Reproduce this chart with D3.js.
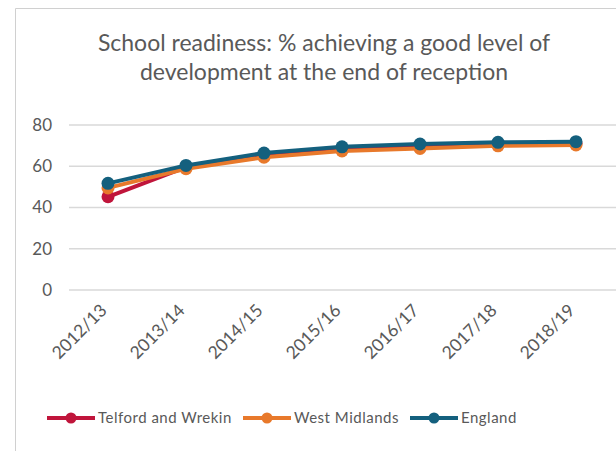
<!DOCTYPE html>
<html><head><meta charset="utf-8">
<script src="https://cdn.jsdelivr.net/npm/d3@7"></script>
<style>body{margin:0;background:#fff}svg{display:block}</style>
</head><body><svg id="c" width="616" height="451"></svg>
<script>
const categories = ["2012/13","2013/14","2014/15","2015/16","2016/17","2017/18","2018/19"];
const telford = [45.2, 59.6, 65.6, 68.6, 69.8, 70.9, 71.0];
const westMidlands = [49.5, 58.8, 64.4, 67.4, 68.6, 69.9, 70.3];
const england = [51.7, 60.4, 66.4, 69.4, 70.8, 71.6, 71.9];
const seriesNames = ["Telford and Wrekin","West Midlands","England"];
const seriesColors = ["#C0153B","#E8792B","#14607E"];
const yTicks = [0,20,40,60,80];
const titleLines = ["School readiness: % achieving a good level of","development at the end of reception"];

const series = [telford, westMidlands, england].map((v,i)=>({name:seriesNames[i], color:seriesColors[i], values:v}));
const svg = d3.select("#c");
const font = "Lato, 'Open Sans', sans-serif";
const txt = "#595959";

// chart border
svg.append("path").attr("d","M15.5,451 V8.5 H616").attr("fill","none").attr("stroke","#d0d0d0").attr("stroke-width",1);

// title
svg.append("text").attr("x",324).attr("y",51).attr("text-anchor","middle")
  .attr("font-family",font).attr("font-size",23).attr("fill",txt)
  .selectAll("tspan").data(titleLines).join("tspan")
  .attr("x",324).attr("dy",(d,i)=>i?29:0).text(d=>d);

const x = d3.scalePoint().domain(categories).range([108,576]);
const y = d3.scaleLinear().domain([0,80]).range([290,125]);

// gridlines
svg.append("g").selectAll("line").data(yTicks).join("line")
  .attr("x1",69).attr("x2",616).attr("y1",d=>y(d)).attr("y2",d=>y(d))
  .attr("stroke","#d9d9d9").attr("stroke-width",1.5);

// y axis
const ya = svg.append("g").attr("transform","translate(69,0)")
  .call(d3.axisLeft(y).tickValues(yTicks).tickSize(0).tickPadding(17));
ya.select(".domain").remove();
ya.selectAll("text").attr("font-family",font).attr("font-size",17).attr("fill",txt);

// x axis
const xa = svg.append("g").attr("transform","translate(0,292)")
  .call(d3.axisBottom(x).tickSize(0));
xa.select(".domain").remove();
xa.selectAll("text").attr("font-family",font).attr("font-size",17.5).attr("fill",txt)
  .attr("text-anchor","end").attr("dy","0.35em")
  .attr("transform","translate(-7,13) rotate(-45)");

// lines
const line = d3.line().x((d,i)=>x(categories[i])).y(d=>y(d));
series.forEach(s=>{
  const g = svg.append("g");
  g.append("path").attr("d",line(s.values)).attr("fill","none")
    .attr("stroke",s.color).attr("stroke-width",4).attr("stroke-linejoin","round").attr("stroke-linecap","round");
  g.selectAll("circle").data(s.values).join("circle")
    .attr("cx",(d,i)=>x(categories[i])).attr("cy",d=>y(d)).attr("r",6.5).attr("fill",s.color);
});

// legend
const legX = [47,243,410];
const lg = svg.append("g");
series.forEach((s,i)=>{
  const g = lg.append("g").attr("transform",`translate(${legX[i]},418)`);
  g.append("line").attr("x1",0).attr("x2",48).attr("stroke",s.color).attr("stroke-width",4);
  g.append("circle").attr("cx",24).attr("r",5.5).attr("fill",s.color);
  g.append("text").attr("x",51).attr("dy","0.35em").attr("font-family",font).attr("font-size",15)
    .attr("letter-spacing",0.5).attr("fill",txt).text(s.name);
});
</script></body></html>
